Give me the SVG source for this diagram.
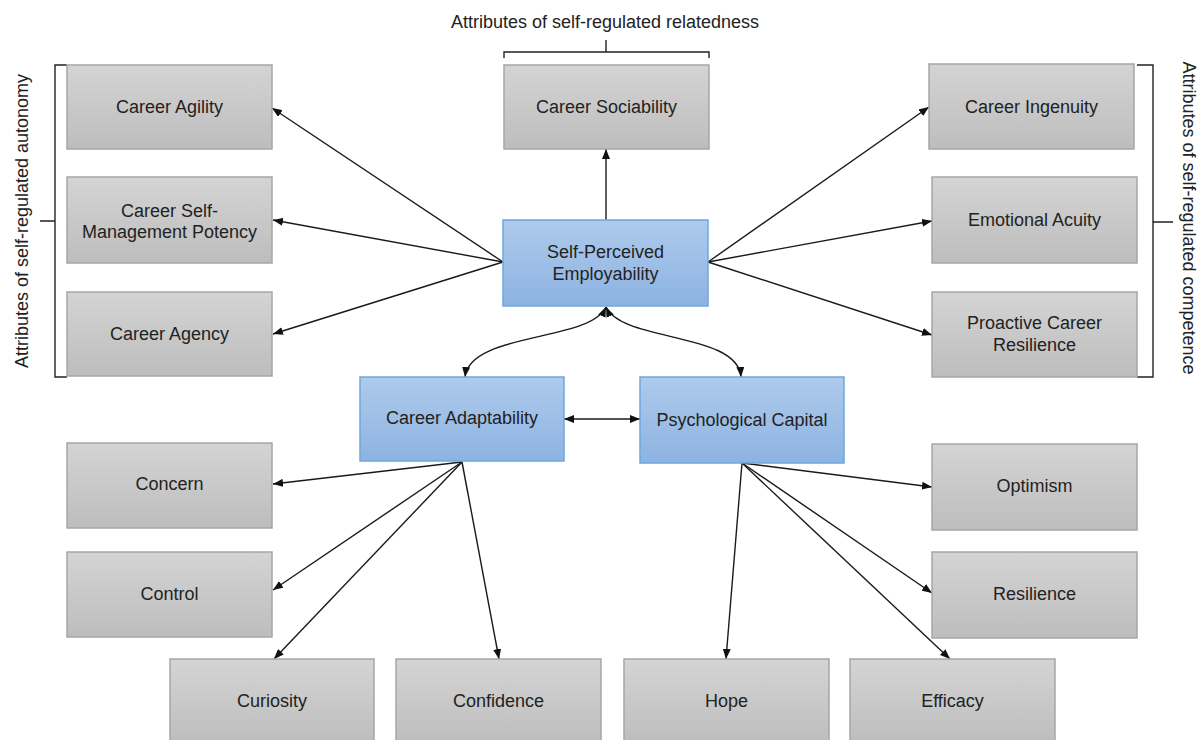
<svg xmlns="http://www.w3.org/2000/svg" width="1204" height="740" viewBox="0 0 1204 740">
<style>
.g{fill:url(#gray);stroke:#a6a6a6;stroke-width:1.5}
.b{fill:url(#blue);stroke:#6fa7dc;stroke-width:1.5}
text{font-family:"Liberation Sans",Arial,sans-serif;font-size:18px;fill:#222;text-anchor:middle}
.c{fill:none;stroke:#1a1a1a;stroke-width:1.4}
.a{marker-end:url(#ah)}
.d{marker-start:url(#ah);marker-end:url(#ah)}
.br{fill:none;stroke:#222;stroke-width:1.4}
</style>
<defs>
<linearGradient id="gray" x1="0" y1="0" x2="0" y2="1"><stop offset="0" stop-color="#d4d4d4"/><stop offset="1" stop-color="#bdbdbd"/></linearGradient>
<linearGradient id="blue" x1="0" y1="0" x2="0" y2="1"><stop offset="0" stop-color="#aecaeb"/><stop offset="1" stop-color="#8db3e2"/></linearGradient>
<marker id="ah" viewBox="0 0 10 8" refX="10" refY="4" markerWidth="10" markerHeight="8" markerUnits="userSpaceOnUse" orient="auto-start-reverse"><path d="M0,0 L10,4 L0,8 z" fill="#111"/></marker>
</defs>

<g id="labels">
<text x="605" y="28">Attributes of self-regulated relatedness</text>
<text transform="translate(28,221) rotate(-90)">Attributes of self-regulated autonomy</text>
<text transform="translate(1183,218) rotate(90)">Attributes of self-regulated competence</text>
<path class="br" d="M504,58 V52 H709 V58 M606,52 V40"/>
<path class="br" d="M67,65 H55 V377 H67 M55,221 H40"/>
<path class="br" d="M1137,65 H1153 V377 H1137 M1153,222 H1173"/>
</g>

<g id="connectors">
<line class="c a" x1="503" y1="262" x2="272" y2="108"/>
<line class="c a" x1="503" y1="262" x2="273" y2="220"/>
<line class="c a" x1="503" y1="262" x2="273" y2="334"/>
<line class="c a" x1="606" y1="220" x2="606" y2="149"/>
<line class="c a" x1="708" y1="262" x2="929" y2="107"/>
<line class="c a" x1="708" y1="262" x2="932" y2="221"/>
<line class="c a" x1="708" y1="262" x2="932" y2="335"/>
<path class="c d" d="M606,307 C590,342 470,332 465,377"/>
<path class="c d" d="M606,307 C622,342 738,332 741,377"/>
<line class="c d" x1="564" y1="419" x2="640" y2="419"/>
<line class="c a" x1="462" y1="462" x2="273" y2="484"/>
<line class="c a" x1="462" y1="462" x2="273" y2="590"/>
<line class="c a" x1="462" y1="462" x2="274" y2="659"/>
<line class="c a" x1="462" y1="462" x2="499" y2="659"/>
<line class="c a" x1="742" y1="463" x2="932" y2="487"/>
<line class="c a" x1="742" y1="463" x2="932" y2="593"/>
<line class="c a" x1="742" y1="463" x2="726" y2="659"/>
<line class="c a" x1="742" y1="463" x2="950" y2="659"/>
</g>

<g id="career-agility"><rect class="g" x="67" y="65" width="205" height="84"/><text x="169.5" y="113">Career Agility</text></g>
<g id="career-self-management"><rect class="g" x="67" y="177" width="205" height="86"/><text x="169.5" y="216.5">Career Self-</text><text x="169.5" y="238">Management Potency</text></g>
<g id="career-agency"><rect class="g" x="67" y="292" width="205" height="84"/><text x="169.5" y="340">Career Agency</text></g>
<g id="career-sociability"><rect class="g" x="504" y="65" width="205" height="84"/><text x="606.5" y="113">Career Sociability</text></g>
<g id="career-ingenuity"><rect class="g" x="929" y="64" width="205" height="85"/><text x="1031.5" y="113">Career Ingenuity</text></g>
<g id="emotional-acuity"><rect class="g" x="932" y="177" width="205" height="86"/><text x="1034.5" y="226">Emotional Acuity</text></g>
<g id="proactive-career-resilience"><rect class="g" x="932" y="292" width="205" height="85"/><text x="1034.5" y="329">Proactive Career</text><text x="1034.5" y="350.5">Resilience</text></g>
<g id="self-perceived-employability"><rect class="b" x="503" y="220" width="205" height="86"/><text x="605.5" y="258">Self-Perceived</text><text x="605.5" y="280">Employability</text></g>
<g id="career-adaptability"><rect class="b" x="360" y="377" width="204" height="84"/><text x="462" y="424">Career Adaptability</text></g>
<g id="psychological-capital"><rect class="b" x="640" y="377" width="204" height="86"/><text x="742" y="426">Psychological Capital</text></g>
<g id="concern"><rect class="g" x="67" y="443" width="205" height="85"/><text x="169.5" y="490">Concern</text></g>
<g id="control"><rect class="g" x="67" y="552" width="205" height="85"/><text x="169.5" y="600">Control</text></g>
<g id="curiosity"><rect class="g" x="170" y="659" width="204" height="86"/><text x="272" y="707">Curiosity</text></g>
<g id="confidence"><rect class="g" x="396" y="659" width="205" height="86"/><text x="498.5" y="707">Confidence</text></g>
<g id="hope"><rect class="g" x="624" y="659" width="205" height="86"/><text x="726.5" y="707">Hope</text></g>
<g id="efficacy"><rect class="g" x="850" y="659" width="205" height="86"/><text x="952.5" y="707">Efficacy</text></g>
<g id="optimism"><rect class="g" x="932" y="444" width="205" height="86"/><text x="1034.5" y="492">Optimism</text></g>
<g id="resilience"><rect class="g" x="932" y="552" width="205" height="86"/><text x="1034.5" y="600">Resilience</text></g>
</svg>
